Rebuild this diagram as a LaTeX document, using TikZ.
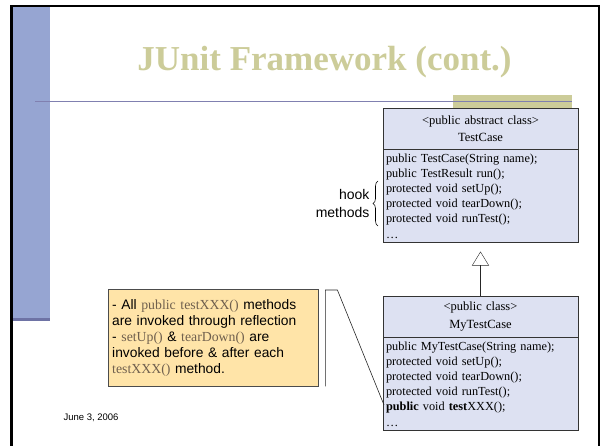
\documentclass[tikz,border=0pt]{standalone}
\usepackage{fontspec}
\setmainfont{Liberation Serif}
\setsansfont{Liberation Sans}
\usetikzlibrary{calc,positioning,arrows.meta,decorations.pathreplacing}

\definecolor{bandBlue}{RGB}{150,165,210}
\definecolor{bandShade}{RGB}{110,115,165}
\definecolor{titleOlive}{RGB}{204,204,153}
\definecolor{ruleBlue}{RGB}{128,128,176}
\definecolor{classFill}{RGB}{221,225,242}
\definecolor{noteFill}{RGB}{255,228,168}
\definecolor{codeBrown}{RGB}{112,96,78}

\newcommand{\codeword}[1]{{\rmfamily\color{codeBrown}#1}}

\begin{document}
\begin{tikzpicture}[x=1pt,y=-1pt,>=Stealth]
  \useasboundingbox (0,0) rectangle (600,446);
  \tikzset{
    classHead/.style={rectangle,draw=black!80,fill=classFill,text width=189pt,
      inner xsep=3pt,inner ysep=0pt,minimum height=41pt,align=center,
      font=\fontsize{12.5}{17.5}\selectfont},
    classBody/.style={rectangle,draw=black!80,fill=classFill,text width=189pt,
      inner xsep=3pt,inner ysep=4pt,align=left,
      font=\fontsize{12.3}{15.2}\selectfont},
    noteBox/.style={rectangle,draw=black!70,fill=noteFill,text width=202pt,
      inner xsep=4pt,inner ysep=3pt,minimum height=97pt,align=left,
      font=\sffamily\fontsize{13.8}{16}\selectfont},
    hookLabel/.style={align=right,font=\sffamily\fontsize{14}{18}\selectfont},
    % edge styles
    inherit/.style={-{Triangle[open,width=17pt,length=14pt]},black!85,shorten >=9pt},
    callout/.style={black!85,line width=0.6pt},
    hookBrace/.style={decorate,decoration={brace,amplitude=5pt},line width=0.6pt}
  }

  %%% Slide frame
  \fill[black] (10,5) rectangle (600,7);
  \fill[black] (10,5) rectangle (12.5,446);
  \fill[black] (597.5,5) rectangle (600,446);
  \fill[bandBlue] (12.5,7) rectangle (50,321);
  \fill[bandShade] (12.5,318) rectangle (50,321);
  \fill[titleOlive] (453,95) rectangle (572,108);
  \draw[ruleBlue,line width=1.5pt] (35,101.5) -- (572,101.5);

  \node[font=\bfseries\fontsize{35}{38}\selectfont,text=titleOlive] (title)
    at (324.5,62) {JUnit Framework (cont.)};

  %%% TestCase
  \node[classHead,anchor=north] (testCaseHead) at (480.5,108)
    {<public abstract class>\\TestCase};
  \node[classBody,below=0pt of testCaseHead] (testCaseBody)
    {public TestCase(String name);\\
     public TestResult run();\\
     protected void setUp();\\
     protected void tearDown();\\
     protected void runTest();\\
     \ldots};

  % hook methods
  \coordinate (hookBot) at (378,226);
  \coordinate (hookTop) at (378,181);
  \draw[hookBrace] (hookBot) -- (hookTop);
  \node[hookLabel,left=5pt of $(hookBot)!0.5!(hookTop)$] (hookText) {hook\\methods};

  %%% MyTestCase
  \node[classHead,anchor=north] (myTestCaseHead) at (480.5,296)
    {<public class>\\MyTestCase};
  \node[classBody,below=0pt of myTestCaseHead] (myTestCaseBody)
    {public MyTestCase(String name);\\
     protected void setUp();\\
     protected void tearDown();\\
     protected void runTest();\\
     \textbf{public} void \textbf{test}XXX();\\
     \ldots};

  \draw[inherit] (myTestCaseHead.north) -- (testCaseBody.south);

  %%% Note
  \node[noteBox,anchor=north west] (note) at (108,289)
    {- All \codeword{public testXXX()} methods\\
     are invoked through reflection\\
     - \codeword{setUp()} \& \codeword{tearDown()} are\\
     invoked before \& after each\\
     \codeword{testXXX()} method.};

  \coordinate (calloutBot) at ($(note.south east)+(7,0)$);
  \coordinate (calloutTop) at ($(note.north east)+(7,1)$);
  \coordinate (calloutKnee) at ($(calloutTop)+(12,0)$);
  \coordinate (testLine) at (384,405);
  \draw[callout] (calloutBot) -- (calloutTop) -- (calloutKnee) -- (testLine);

  % date
  \node[anchor=west,font=\sffamily\fontsize{9.5}{11}\selectfont] (date) at (60,418) {June 3, 2006};

\end{tikzpicture}
\end{document}
